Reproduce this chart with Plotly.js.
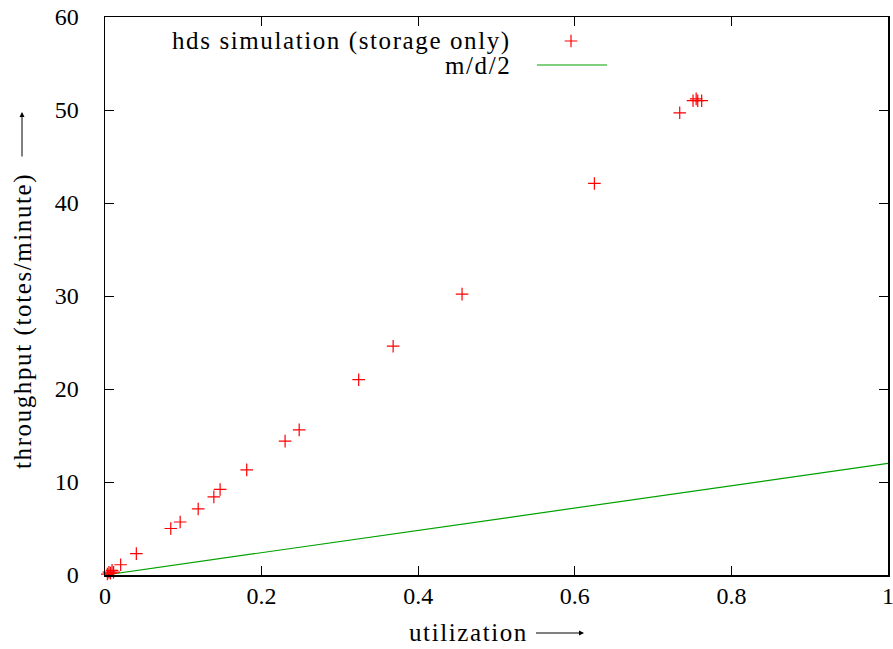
<!DOCTYPE html>
<html>
<head>
<meta charset="utf-8">
<script src="https://cdn.plot.ly/plotly-3.0.1.min.js"></script>
<style>html,body{margin:0;padding:0;background:#fff;}#chart{width:893px;height:649px;}</style>
</head>
<body>
<div id="chart"></div>
<script>
// Data
var simUtil = [0.003, 0.005, 0.007, 0.009, 0.011, 0.020, 0.040, 0.084, 0.096, 0.119, 0.139, 0.147, 0.181, 0.230, 0.248, 0.324, 0.368, 0.456, 0.625, 0.734, 0.751, 0.755, 0.757, 0.762];
var simThroughput = [0.1, 0.3, 0.2, 0.5, 0.3, 1.1, 2.3, 5.0, 5.7, 7.1, 8.4, 9.2, 11.3, 14.4, 15.6, 21.0, 24.6, 30.2, 42.1, 49.7, 51.0, 51.2, 51.0, 51.0];
var mdUtil = [0, 0.1, 0.2, 0.3, 0.4, 0.5, 0.6, 0.7, 0.8, 0.9, 1.0];
var mdThroughput = [0, 1.2, 2.4, 3.6, 4.8, 6.0, 7.2, 8.4, 9.6, 10.8, 12.0];
var xTicks = [0, 0.2, 0.4, 0.6, 0.8, 1];
var xTickLabels = ["0", "0.2", "0.4", "0.6", "0.8", "1"];
var yTicks = [0, 10, 20, 30, 40, 50, 60];
var yTickLabels = ["0", "10", "20", "30", "40", "50", "60"];
var legendNames = ["hds simulation (storage only)", "m/d/2"];
var xTitle = "utilization";
var yTitle = "throughput (totes/minute)";

var W = 893, H = 649;
var mL = 105, mR = 5, mT = 17, mB = 74;
var pw = W - mL - mR, ph = H - mT - mB;
function px(x) { return (x - mL) / pw; }
function py(y) { return (H - mB - y) / ph; }

var FONT = "'Liberation Serif', 'Times New Roman', serif";
function spaced(t) { return '<span style="letter-spacing:1.6px">' + t + '</span>'; }
var TFONT = { family: FONT, size: 25, color: '#000' };

var traces = [
  { x: mdUtil, y: mdThroughput, type: 'scatter', mode: 'lines', line: { color: '#00a000', width: 1.2 }, hoverinfo: 'skip' },
  { x: simUtil, y: simThroughput, type: 'scatter', mode: 'markers', marker: { symbol: 'cross-thin', size: 9, line: { color: '#ff0000', width: 1.2 }, color: '#ff0000' }, hoverinfo: 'skip', cliponaxis: false },
  // legend samples on an overlay axis in normalized coordinates
  { x: [px(537), px(607)], y: [py(65), py(65)], xaxis: 'x2', yaxis: 'y2', type: 'scatter', mode: 'lines', line: { color: '#00a000', width: 1.2 }, hoverinfo: 'skip' },
  { x: [px(571)], y: [py(41)], xaxis: 'x2', yaxis: 'y2', type: 'scatter', mode: 'markers', marker: { symbol: 'cross-thin', size: 9, line: { color: '#ff0000', width: 1.2 } }, hoverinfo: 'skip' }
];

var axisCommon = {
  showgrid: false, zeroline: false, showline: true, linecolor: '#000', linewidth: 1.5,
  mirror: 'ticks', ticks: 'inside', ticklen: 9, tickwidth: 1, tickcolor: '#000',
  ticklabeloverflow: 'allow',
  tickfont: { family: FONT, size: 24, color: '#000' }
};

var layout = {
  width: W, height: H,
  font: { family: FONT, color: '#000' },
  margin: { l: mL, r: mR, t: mT, b: mB },
  paper_bgcolor: '#fff', plot_bgcolor: '#fff',
  showlegend: false,
  xaxis: Object.assign({}, axisCommon, {
    range: [0, 1], tickvals: xTicks, ticktext: xTickLabels, ticklabelstandoff: -1
  }),
  yaxis: Object.assign({}, axisCommon, {
    range: [0, 60], tickvals: yTicks, ticktext: yTickLabels, ticklabelstandoff: 20
  }),
  xaxis2: { overlaying: 'x', range: [0, 1], visible: false, fixedrange: true },
  yaxis2: { overlaying: 'y', range: [0, 1], visible: false, fixedrange: true },
  annotations: [
    // legend texts
    { xref: 'paper', yref: 'paper', x: px(513), y: py(41), xanchor: 'right', yanchor: 'middle', text: spaced(legendNames[0]), showarrow: false, font: TFONT },
    { xref: 'paper', yref: 'paper', x: px(513), y: py(65), xanchor: 'right', yanchor: 'middle', text: spaced(legendNames[1]), showarrow: false, font: TFONT },
    // axis titles
    { xref: 'paper', yref: 'paper', x: px(407), y: py(632), xanchor: 'left', yanchor: 'middle', text: spaced(xTitle), showarrow: false, font: TFONT },
    { xref: 'paper', yref: 'paper', x: px(23), y: py(321), xanchor: 'center', yanchor: 'middle', textangle: -90, text: spaced(yTitle), showarrow: false, font: TFONT },
    // axis-title arrows
    { xref: 'paper', yref: 'paper', x: px(584), y: py(633), text: ' ', showarrow: true, ax: -51, ay: 0, arrowhead: 2, arrowsize: 1, arrowwidth: 1, arrowcolor: '#000', standoff: 0, startstandoff: 0 },
    { xref: 'paper', yref: 'paper', x: px(22), y: py(112), text: ' ', showarrow: true, ax: 0, ay: 53, arrowhead: 2, arrowsize: 1, arrowwidth: 1, arrowcolor: '#000', standoff: 0, startstandoff: 0 }
  ]
};

Plotly.newPlot('chart', traces, layout, { displayModeBar: false, staticPlot: true });
</script>
</body>
</html>
